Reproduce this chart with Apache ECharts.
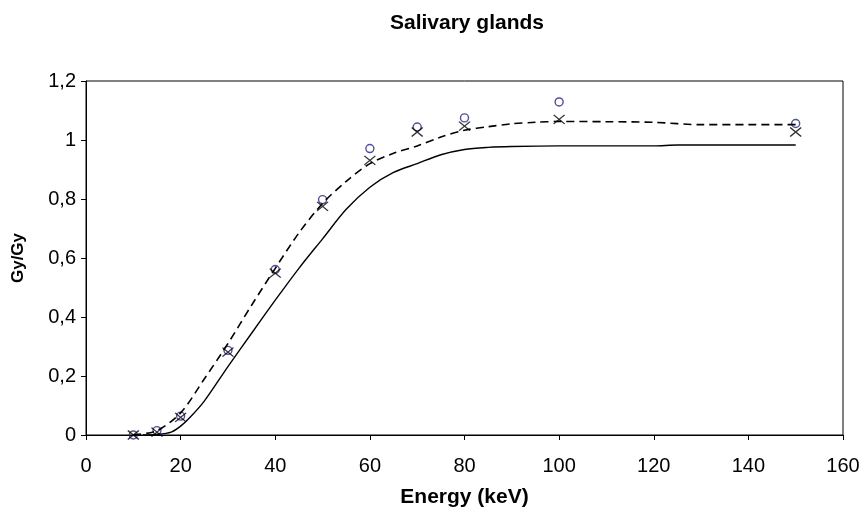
<!DOCTYPE html>
<html><head><meta charset="utf-8">
<script src="https://cdn.jsdelivr.net/npm/echarts@6/dist/echarts.min.js"></script>
<style>html,body{margin:0;padding:0;background:#fff}#c{width:863px;height:514px}</style>
</head><body><div id="c"></div>
<script>
const solidX = [12, 15, 18, 20, 22, 25, 30, 35, 40, 45, 50, 55, 60, 65, 70, 75, 80, 85, 90, 100, 120, 125, 150];
const solidY = [0, 0.002, 0.01, 0.03, 0.06, 0.115, 0.232, 0.345, 0.457, 0.565, 0.665, 0.765, 0.84, 0.89, 0.92, 0.95, 0.968, 0.975, 0.978, 0.98, 0.98, 0.983, 0.983];
const dashX = [10, 15, 20, 25, 30, 35, 40, 45, 50, 55, 60, 65, 70, 75, 80, 85, 90, 95, 100, 110, 120, 130, 140, 150];
const dashY = [0, 0.015, 0.075, 0.19, 0.31, 0.44, 0.565, 0.685, 0.785, 0.86, 0.92, 0.955, 0.98, 1.01, 1.033, 1.045, 1.055, 1.06, 1.063, 1.062, 1.06, 1.052, 1.052, 1.052];
const markX = [10, 15, 20, 30, 40, 50, 60, 70, 80, 100, 150];
const circleY = [0, 0.015, 0.064, 0.287, 0.561, 0.798, 0.971, 1.044, 1.075, 1.129, 1.056];
const crossY = [0, 0.01, 0.06, 0.281, 0.549, 0.775, 0.931, 1.027, 1.047, 1.07, 1.027];

const pairs = (xs, ys) => xs.map((x, i) => [x, ys[i]]);
const font = 'Liberation Sans, Arial, sans-serif';
const chart = echarts.init(document.getElementById('c'), null, {renderer: 'canvas'});
chart.setOption({
  animation: false,
  backgroundColor: '#fff',
  title: {
    text: 'Salivary glands', left: 462, top: 8, textAlign: 'center',
    textStyle: {fontFamily: font, fontSize: 21, fontWeight: 'bold', color: '#000'}
  },
  grid: {left: 86, top: 81, right: 20, bottom: 79, show: true, borderColor: '#000', borderWidth: 1, backgroundColor: 'transparent'},
  xAxis: {
    type: 'value', min: 0, max: 160, interval: 20,
    name: 'Energy (keV)', nameLocation: 'middle', nameGap: 52,
    nameTextStyle: {fontFamily: font, fontSize: 21, fontWeight: 'bold', color: '#000'},
    axisLine: {show: true, lineStyle: {color: '#000', width: 1}},
    axisTick: {show: true, inside: false, length: 5, lineStyle: {color: '#000'}},
    axisLabel: {fontFamily: font, fontSize: 20, color: '#000', margin: 21},
    splitLine: {show: false}
  },
  yAxis: {
    type: 'value', min: 0, max: 1.2, interval: 0.2,
    name: 'Gy/Gy', nameLocation: 'middle', nameGap: 59, nameRotate: 90,
    nameTextStyle: {fontFamily: font, fontSize: 17, fontWeight: 'bold', color: '#000'},
    axisLine: {show: true, lineStyle: {color: '#000', width: 1}},
    axisTick: {show: true, inside: false, length: 5, lineStyle: {color: '#000'}},
    axisLabel: {fontFamily: font, fontSize: 20, color: '#000', margin: 10,
      formatter: v => String(Math.round(v * 10) / 10).replace('.', ',')},
    splitLine: {show: false}
  },
  series: [
    {type: 'line', data: pairs(solidX, solidY), showSymbol: false, symbol: 'none', smooth: 0.3,
     lineStyle: {color: '#000', width: 1.4}},
    {type: 'line', data: pairs(dashX, dashY), showSymbol: false, symbol: 'none', smooth: 0.3,
     lineStyle: {color: '#000', width: 1.6, type: [8, 5]}},
    {type: 'scatter', data: pairs(markX, circleY), symbol: 'circle', symbolSize: 8,
     itemStyle: {color: 'transparent', borderColor: '#24247f', borderWidth: 1.4}},
    {type: 'scatter', data: pairs(markX, crossY), symbol: 'path://M0,0L10,8M10,0L0,8', symbolSize: [11, 9],
     itemStyle: {color: 'none', borderColor: '#000', borderWidth: 1.3}}
  ]
});
</script></body></html>
